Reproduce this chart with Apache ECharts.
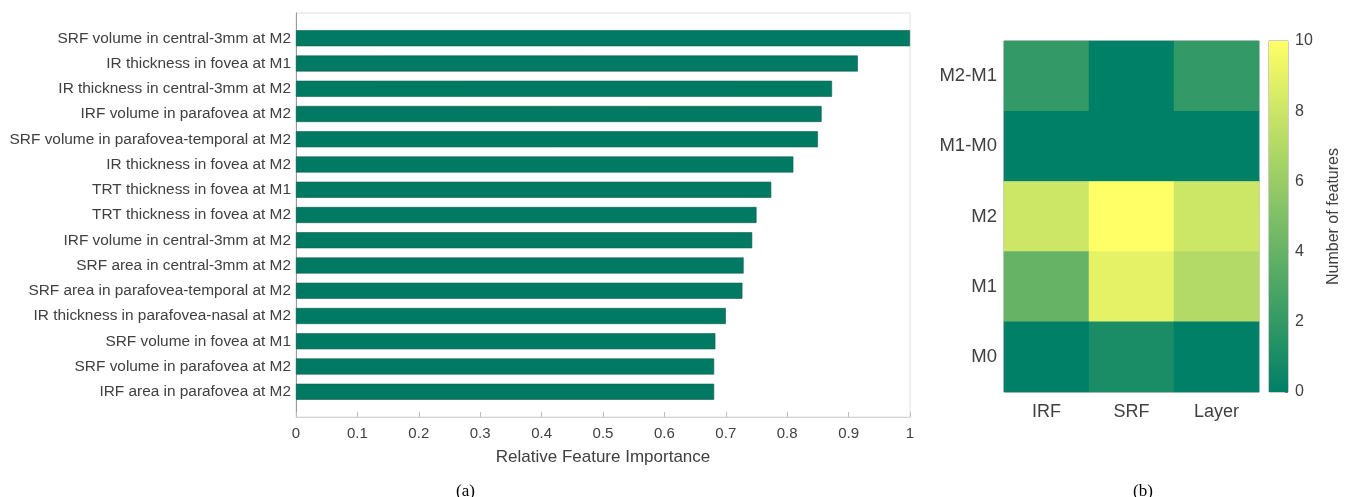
<!DOCTYPE html>
<html>
	<head>
		<meta charset="utf-8">
		<title></title>
		<script type="text/javascript" src="https://cdn.jsdelivr.net/npm/echarts@6/dist/echarts.min.js"></script>
	</head>
	<body style="margin:0;background:#fff;">
		<div id="main" style="width: 1346px;height:497px;"></div>
	</body>
	<script type="text/javascript">
	        // (a) feature names, top to bottom, and their importance
	        var features = [
	            'SRF volume in central-3mm at M2',
	            'IR thickness in fovea at M1',
	            'IR thickness in central-3mm at M2',
	            'IRF volume in parafovea at M2',
	            'SRF volume in parafovea-temporal at M2',
	            'IR thickness in fovea at M2',
	            'TRT thickness in fovea at M1',
	            'TRT thickness in fovea at M2',
	            'IRF volume in central-3mm at M2',
	            'SRF area in central-3mm at M2',
	            'SRF area in parafovea-temporal at M2',
	            'IR thickness in parafovea-nasal at M2',
	            'SRF volume in fovea at M1',
	            'SRF volume in parafovea at M2',
	            'IRF area in parafovea at M2'
	        ];
	        var importance = [1.0, 0.915, 0.873, 0.856, 0.850, 0.810, 0.774, 0.750,
	                          0.743, 0.729, 0.727, 0.700, 0.683, 0.681, 0.681];
	        var xTicks = [0, 0.1, 0.2, 0.3, 0.4, 0.5, 0.6, 0.7, 0.8, 0.9, 1];

	        // (b) heatmap: rows top to bottom, columns left to right
	        var heatRows = ['M2-M1', 'M1-M0', 'M2', 'M1', 'M0'];
	        var heatCols = ['IRF', 'SRF', 'Layer'];
	        var heatM2M1 = [2, 0, 2];
	        var heatM1M0 = [0, 0, 0];
	        var heatM2 = [8, 10, 8];
	        var heatM1 = [4, 9, 7];
	        var heatM0 = [0, 1, 0];
	        var colorTicks = [0, 2, 4, 6, 8, 10];

	        var heatGrid = [heatM2M1, heatM1M0, heatM2, heatM1, heatM0];
	        var heatData = [];
	        heatGrid.forEach(function (row, r) {
	            row.forEach(function (v, c) {
	                heatData.push([c, r, v]);
	            });
	        });
	        // pad one empty slot above and below, like the MATLAB axis limits
	        var yCats = [''].concat(features, ['']);
	        var barData = ['-'].concat(importance, ['-']);

	        var txt = '#404040';
	        var font = 'Liberation Sans, Arial, sans-serif';
	        var lowC = '#008066', highC = '#ffff66';

	        var myChart = echarts.init(document.getElementById('main'));
	        myChart.setOption({
	            textStyle: { fontFamily: font },
	            title: [
	                { text: '(a)', left: 451, top: 478, textStyle: { fontFamily: 'Liberation Serif, serif', fontWeight: 'normal', fontSize: 17, color: '#000' } },
	                { text: '(b)', left: 1128, top: 478, textStyle: { fontFamily: 'Liberation Serif, serif', fontWeight: 'normal', fontSize: 17, color: '#000' } }
	            ],
	            visualMap: {
	                show: false, seriesIndex: 1, min: 0, max: 10,
	                inRange: { color: [lowC, highC] }
	            },
	            grid: [
	                { left: 296, top: 13, width: 614, height: 404, show: true, borderColor: '#e2e2e2', borderWidth: 1 },
	                { left: 1004, top: 41, width: 255, height: 351, show: true, borderColor: '#9a9a9a', borderWidth: 1 },
	                { left: 1269, top: 41, width: 19, height: 351, show: true, borderColor: '#9a9a9a', borderWidth: 1 }
	            ],
	            xAxis: [
	                {
	                    gridIndex: 0, type: 'value', min: 0, max: 1, interval: 0.1,
	                    name: 'Relative Feature Importance', nameLocation: 'middle', nameGap: 32,
	                    nameTextStyle: { fontSize: 17, color: txt },
	                    axisLine: { show: true, onZero: false, lineStyle: { color: '#d4d4d4' } },
	                    axisTick: { show: true, inside: true, length: 5, lineStyle: { color: '#bdbdbd' } },
	                    axisLabel: { fontSize: 15, color: txt, margin: 9,
	                        formatter: function (v) { return xTicks.indexOf(+v.toFixed(1)) >= 0 ? String(+v.toFixed(1)) : ''; } },
	                    splitLine: { show: false }
	                },
	                {
	                    gridIndex: 1, type: 'category', data: heatCols,
	                    axisLine: { show: false },
	                    axisTick: { show: false },
	                    axisLabel: { fontSize: 18, color: txt, margin: 11 },
	                    splitLine: { show: false }
	                },
	                {
	                    gridIndex: 2, type: 'category', data: [''],
	                    axisLine: { show: false }, axisTick: { show: false }, axisLabel: { show: false }
	                }
	            ],
	            yAxis: [
	                {
	                    gridIndex: 0, type: 'category', data: yCats, inverse: true, boundaryGap: false,
	                    axisLine: { show: true, lineStyle: { color: '#9a9a9a' } },
	                    axisTick: { show: false },
	                    axisLabel: { fontSize: 15.4, color: txt, margin: 5, interval: 0 },
	                    splitLine: { show: false }
	                },
	                {
	                    gridIndex: 1, type: 'category', data: heatRows, inverse: true,
	                    axisLine: { show: false },
	                    axisTick: { show: false },
	                    axisLabel: { fontSize: 18.5, color: txt, margin: 7 },
	                    splitLine: { show: false }
	                },
	                {
	                    gridIndex: 2, type: 'value', min: 0, max: 10, interval: 2, position: 'right',
	                    name: 'Number of features', nameLocation: 'middle', nameGap: 38, nameRotate: 90,
	                    nameTextStyle: { fontSize: 16, color: txt },
	                    axisLine: { show: false },
	                    axisTick: { show: true, inside: true, length: 3, lineStyle: { color: '#777' } },
	                    axisLabel: { fontSize: 16, color: txt, margin: 7,
	                        formatter: function (v) { return colorTicks.indexOf(v) >= 0 ? v : ''; } },
	                    splitLine: { show: false }
	                }
	            ],
	            series: [
	                {
	                    type: 'bar', xAxisIndex: 0, yAxisIndex: 0,
	                    barWidth: 16,
	                    itemStyle: { color: '#007a63', borderColor: '#0a5e4c', borderWidth: 0.6 },
	                    data: barData
	                },
	                {
	                    type: 'heatmap', xAxisIndex: 1, yAxisIndex: 1,
	                    data: heatData,
	                    itemStyle: { borderWidth: 0 }
	                },
	                {
	                    type: 'bar', xAxisIndex: 2, yAxisIndex: 2,
	                    barWidth: '100%',
	                    itemStyle: {
	                        color: new echarts.graphic.LinearGradient(0, 0, 0, 1, [
	                            { offset: 0, color: highC },
	                            { offset: 1, color: lowC }
	                        ])
	                    },
	                    data: [10]
	                }
	            ]
	        });
	    </script>
</html>
